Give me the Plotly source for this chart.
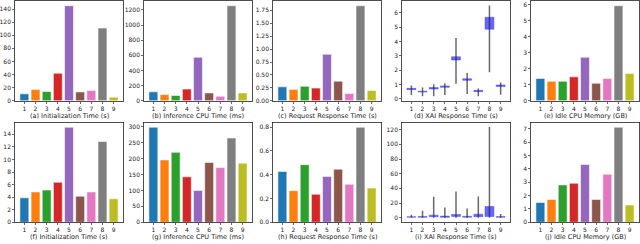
import plotly.graph_objects as go
from plotly.subplots import make_subplots

categories = [1, 2, 3, 4, 5, 6, 7, 8, 9]
colors = ['#1f77b4', '#ff7f0e', '#2ca02c', '#d62728', '#9467bd',
          '#8c564b', '#e377c2', '#7f7f7f', '#bcbd22']

# top row
init_time_a = [10.5, 17, 14, 42, 145, 13.5, 15.5, 111, 5.5]
cpu_time_b = [118, 81, 69, 154, 574, 103, 60, 1256, 103]
resp_time_c = [0.27, 0.22, 0.28, 0.245, 0.90, 0.38, 0.14, 1.84, 0.20]
xai_d_low = [0.27, 0.18, 0.18, 0.27, 1.06, 0.34, 0.18, 1.86, 0.29]
xai_d_q1 = [0.64, 0.47, 0.68, 0.80, 2.71, 1.29, 0.50, 4.86, 0.86]
xai_d_q3 = [0.73, 0.53, 0.79, 0.90, 2.94, 1.40, 0.59, 5.70, 0.97]
xai_d_high = [0.93, 0.79, 1.02, 1.09, 4.25, 1.81, 0.72, 6.52, 1.13]
mem_e = [1.39, 1.21, 1.21, 1.49, 2.71, 1.09, 1.39, 5.92, 1.70]

# bottom row
init_time_f = [3.89, 4.82, 5.13, 6.38, 15.14, 4.15, 4.82, 12.86, 3.73]
cpu_time_g = [299, 196, 220, 143, 100, 188, 172, 265, 186]
resp_time_h = [0.427, 0.266, 0.485, 0.236, 0.386, 0.447, 0.32, 0.80, 0.288]
xai_i_low = [0.3, 0.0, 0.0, 0.0, 0.0, 0.0, 0.0, 0.0, 0.0]
xai_i_q1 = [0.6, 0.5, 1.3, 0.5, 1.7, 0.6, 1.3, 1.7, 0.5]
xai_i_q3 = [1.3, 1.7, 3.5, 2.2, 4.4, 2.0, 4.8, 15.3, 1.5]
xai_i_high = [4.0, 9.6, 28.4, 14.0, 35.8, 12.5, 29.0, 123.6, 5.0]
mem_j = [1.48, 1.70, 2.80, 2.92, 4.33, 1.70, 3.60, 7.12, 1.29]

titles = ['(a) Initialization Time (s)', '(b) Inference CPU Time (ms)',
          '(c) Request Response Time (s)', '(d) XAI Response Time (s)',
          '(e) Idle CPU Memory (GB)',
          '(f) Initialization Time (s)', '(g) Inference CPU Time (ms)',
          '(h) Request Response Time (s)', '(i) XAI Response Time (s)',
          '(j) Idle CPU Memory (GB)']

panels = [
    ('bar', init_time_a, 20, None),
    ('bar', cpu_time_b, 200, None),
    ('bar', resp_time_c, 0.25, '.2f'),
    ('box', (xai_d_low, xai_d_q1, xai_d_q3, xai_d_high), 1, None),
    ('bar', mem_e, 1, None),
    ('bar', init_time_f, 2, None),
    ('bar', cpu_time_g, 50, None),
    ('bar', resp_time_h, 0.2, '.1f'),
    ('box', (xai_i_low, xai_i_q1, xai_i_q3, xai_i_high), 20, None),
    ('bar', mem_j, 1, None),
]

W, H = 640, 244
fig = make_subplots(rows=2, cols=5)

col_left = [15, 144, 273, 402, 531]
pw = 108
row_tb = [(1, 102), (124, 225)]
title_y = [117, 240]

font = dict(family='DejaVu Sans', size=6, color='#222')

for k, (kind, data, dtick, fmt) in enumerate(panels):
    r = k // 5 + 1
    c = k % 5 + 1
    if kind == 'bar':
        fig.add_trace(go.Bar(x=categories, y=data, width=0.8,
                             marker=dict(color=colors,
                                         line=dict(color='rgba(255,255,255,0.7)', width=0.8)),
                             showlegend=False), row=r, col=c)
        yr = [0, max(data) * 1.05]
    else:
        lo, q1, q3, hi = data
        wx, wy = [], []
        for i, cat in enumerate(categories):
            wx += [cat, cat, None]
            wy += [lo[i], hi[i], None]
        fig.add_trace(go.Scatter(x=wx, y=wy, mode='lines',
                                 line=dict(color='rgba(40,40,40,0.7)', width=1.5),
                                 showlegend=False, hoverinfo='skip'), row=r, col=c)
        fig.add_trace(go.Bar(x=categories, y=[b - a for a, b in zip(q1, q3)], base=q1,
                             width=0.8,
                             marker=dict(color='rgba(0,0,255,0.6)',
                                         line=dict(color='rgba(60,60,255,0.55)', width=0.8)),
                             showlegend=False), row=r, col=c)
        mn, mx = min(lo), max(hi)
        rng = mx - mn
        yr = [mn - 0.05 * rng, mx + 0.05 * rng]

    x0 = col_left[c - 1]
    top, bot = row_tb[r - 1]
    xname = 'xaxis' if k == 0 else f'xaxis{k+1}'
    yname = 'yaxis' if k == 0 else f'yaxis{k+1}'
    fig.layout[xname].update(domain=[x0 / W, (x0 + pw) / W], range=[0.16, 9.84],
                             tickvals=categories, ticks='outside', ticklen=2, tickwidth=0.8,
                             showline=True, mirror=True, linecolor='#222', linewidth=0.8,
                             showgrid=False, zeroline=False, tickfont=font, fixedrange=True)
    yax = dict(domain=[(H - bot) / H, (H - top) / H], range=yr, dtick=dtick, tick0=0,
               ticks='outside', ticklen=2, tickwidth=0.8,
               showline=True, mirror=True, linecolor='#222', linewidth=0.8,
               showgrid=False, zeroline=False, tickfont=font)
    if fmt:
        yax['tickformat'] = fmt
    fig.layout[yname].update(**yax)
    fig.add_annotation(text=titles[k], xref=f'x{"" if k == 0 else k+1} domain', x=0.5,
                       yref='paper', y=(H - title_y[r - 1]) / H, yanchor='middle',
                       showarrow=False, font=dict(family='DejaVu Sans', size=6.5, color='#222'))

fig.update_layout(width=W, height=H, margin=dict(l=0, r=0, t=0, b=0),
                  plot_bgcolor='white', paper_bgcolor='white', bargap=0)
fig.write_html('out.html', config={'displayModeBar': False, 'staticPlot': True},
               post_script="document.body.style.margin='0';document.body.style.overflow='hidden';"
                           "document.documentElement.style.overflow='hidden';")
